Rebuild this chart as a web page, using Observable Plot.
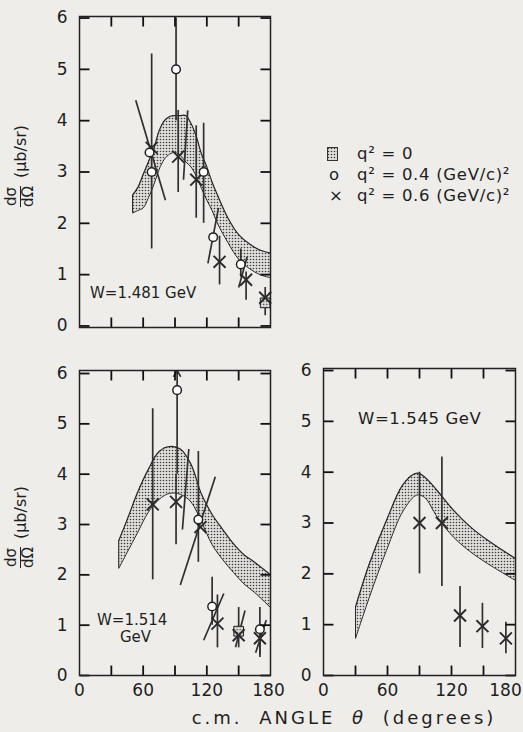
<!DOCTYPE html>
<html><head><meta charset="utf-8">
<script src="https://cdn.jsdelivr.net/npm/d3@7"></script>
<script src="https://cdn.jsdelivr.net/npm/@observablehq/plot@0.6"></script>
<style>
body{margin:0;background:#eeede9;}
#wrap{position:relative;width:523px;height:732px;overflow:hidden;background:#eeede9;font-family:"DejaVu Sans",sans-serif;color:#1e1e1e;}
.abs{position:absolute;white-space:nowrap;}
.lbl{font-size:15px;line-height:16px;}
.ytitle{position:absolute;transform:translate(-50%,-50%) rotate(-90deg);white-space:nowrap;display:flex;align-items:center;font-size:16px;}
.frac{display:inline-flex;flex-direction:column;align-items:center;font-size:15px;line-height:15px;margin-right:8px;}
.frac span:first-child{border-bottom:1.4px solid #1e1e1e;padding:0 1px 1px 1px;}
.leg{position:absolute;font-size:16.5px;line-height:20px;letter-spacing:0.7px;white-space:nowrap;}
</style></head><body><div id="wrap"></div><script>
// ---------- data: W = 1.481 GeV ----------
const band1481Angle = [50,55,60,65,70,75,80,85,90,95,100,105,110,115,120,125,130,140,150,160,170,180];
const band1481Upper = [2.55,2.7,2.95,3.2,3.45,3.8,4.0,4.08,4.1,4.1,4.1,3.95,3.7,3.35,3.1,2.8,2.55,2.1,1.78,1.6,1.48,1.42];
const band1481Lower = [2.2,2.25,2.3,2.5,2.75,3.05,3.25,3.35,3.38,3.32,3.2,3.1,2.92,2.68,2.45,2.25,2.0,1.62,1.3,1.12,1.0,0.94];
const circles1481 = [{a:66,v:3.38},{a:68,v:3.0,lo:1.5,hi:5.3},{a:91,v:5.0,lo:4.0,hi:6.0},{a:117,v:3.0,lo:2.0,hi:3.95},{a:126,v:1.73},{a:152,v:1.2,lo:0.95,hi:1.5}];
const crosses1481 = [{a:68,v:3.47},{a:93,v:3.3,lo:2.6,hi:4.2},{a:110,v:2.85,lo:2.1,hi:3.9},{a:132,v:1.25,lo:0.8,hi:1.75},{a:157,v:0.9,lo:0.5,hi:1.05},{a:175,v:0.55,lo:0.2,hi:0.75}];
const tilts1481 = [{a1:53,v1:4.4,a2:81,v2:2.45},{a1:102,v1:4.2,a2:98,v2:2.85},{a1:121,v1:1.22,a2:131,v2:2.3},{a1:150,v1:0.75,a2:158,v2:1.35}];
const squares1481 = [{a:175,v:0.45}];
// ---------- data: W = 1.514 GeV ----------
const band1514Angle = [37,45,55,65,75,85,95,105,115,125,135,145,155,165,180];
const band1514Upper = [2.68,3.1,3.65,4.1,4.45,4.55,4.5,4.2,3.6,3.2,2.9,2.62,2.4,2.25,2.0];
const band1514Lower = [2.13,2.45,2.85,3.25,3.5,3.62,3.6,3.45,3.05,2.6,2.3,2.05,1.82,1.65,1.35];
const circles1514 = [{a:92,v:5.67,lo:4.0},{a:112,v:3.1,lo:2.25,hi:4.45},{a:125,v:1.37,lo:1.0,hi:1.95},{a:170,v:0.92,lo:0.4,hi:1.35}];
const arrows1514 = [{a:92,v1:5.67,v2:6.06}];
const crosses1514 = [{a:69,v:3.4,lo:1.9,hi:5.3},{a:91,v:3.45,lo:2.6,hi:4.0},{a:114,v:2.95},{a:130,v:1.03,lo:0.55,hi:1.6},{a:150,v:0.8,lo:0.55,hi:1.35},{a:170,v:0.74,lo:0.36,hi:1.0}];
const tilts1514 = [{a1:103,v1:4.5,a2:97,v2:2.9},{a1:95,v1:1.8,a2:128,v2:3.95},{a1:117,v1:0.7,a2:136,v2:1.63},{a1:147,v1:0.56,a2:156,v2:1.29},{a1:166,v1:0.45,a2:176,v2:1.1}];
const squares1514 = [{a:150,v:0.88}];
// ---------- data: W = 1.545 GeV ----------
const band1545Angle = [30,43,59,75,87.5,95,106.5,122,138,154,180];
const band1545Upper = [1.35,2.2,3.05,3.77,3.98,3.9,3.64,3.25,2.92,2.66,2.3];
const band1545Lower = [0.73,1.54,2.46,3.25,3.55,3.5,3.12,2.72,2.43,2.2,1.87];
const crosses1545 = [{a:90,v:3.0,lo:2.0,hi:4.0},{a:111,v:3.0,lo:1.75,hi:4.3},{a:128,v:1.18,lo:0.55,hi:1.75},{a:149,v:0.97,lo:0.53,hi:1.42},{a:171,v:0.73,lo:0.43,hi:1.05}];
// ---------- ticks ----------
const yTicks = [0,1,2,3,4,5,6];
const xMinorTicks = [30,60,90,120,150];
const xTickLabels = [0,60,120];
const xTickLabelEnd = [180];

const wrap = document.getElementById("wrap");
const INK = "#262626";
const TICK = 10; // tick length in pixels

function addPattern(svg, id){
  const ns = "http://www.w3.org/2000/svg";
  const defs = document.createElementNS(ns, "defs");
  defs.innerHTML = `<pattern id="${id}" width="3" height="3" patternUnits="userSpaceOnUse"><rect width="3" height="3" fill="#e0dfdb"/><circle cx="1.5" cy="1.5" r="0.8" fill="#3a3a3a"/></pattern>`;
  svg.insertBefore(defs, svg.firstChild);
}

function panel(o){
  const band = o.angle.map((a,i)=>({a, lo:o.lower[i], hi:o.upper[i]}));
  const errs = [...(o.circles||[]), ...(o.crosses||[])].filter(d=>d.lo!==undefined);
  const errsFull = errs.map(d=>({a:d.a, lo:d.lo, hi:d.hi===undefined?d.v:d.hi}));
  const pat = `url(#${o.id})`;
  // frame size in pixels -> tick length expressed in each scale's units
  const fw = o.width - o.ml - o.mr, fh = o.height - o.mt - o.mb;
  const [y0, y1] = o.yDomain;
  const tx = TICK * 180 / fw, ty = TICK * (y1 - y0) / fh;
  const tickStyle = {stroke:"#111", strokeWidth:1.8};
  const marks = [
    Plot.areaY(band, {x:"a", y1:"lo", y2:"hi", fill:pat, curve:"catmull-rom"}),
    Plot.line(band, {x:"a", y:"hi", stroke:INK, strokeWidth:1.2, curve:"catmull-rom"}),
    Plot.line(band, {x:"a", y:"lo", stroke:INK, strokeWidth:1.0, curve:"catmull-rom"}),
    Plot.ruleX([band[0]], {x:"a", y1:"lo", y2:"hi", stroke:INK, strokeWidth:1}),
    Plot.ruleX(errsFull, {x:"a", y1:"lo", y2:"hi", stroke:"#303030", strokeWidth:1.7}),
    Plot.link(o.tilts||[], {x1:"a1", y1:"v1", x2:"a2", y2:"v2", stroke:"#303030", strokeWidth:1.7}),
    Plot.arrow(o.arrows||[], {x1:"a", y1:"v1", x2:"a", y2:"v2", stroke:"#303030", strokeWidth:1.7, headLength:7}),
    Plot.dot(o.squares||[], {x:"a", y:"v", symbol:"square", r:5.5, fill:pat, stroke:INK, strokeWidth:1}),
    Plot.dot(o.crosses||[], {x:"a", y:"v", symbol:"times", r:5.5, stroke:"#2a2a2a", strokeWidth:1.9}),
    Plot.dot(o.circles||[], {x:"a", y:"v", r:4.3, fill:"white", stroke:"#222", strokeWidth:1.5}),
    // inward ticks on all four sides, drawn as links through the plot's scales
    Plot.link(yTicks, {x1:()=>0, x2:()=>tx, y1:d=>d, y2:d=>d, ...tickStyle}),
    Plot.link(yTicks, {x1:()=>180-tx, x2:()=>180, y1:d=>d, y2:d=>d, ...tickStyle}),
    Plot.link(xMinorTicks, {x1:d=>d, x2:d=>d, y1:()=>y1, y2:()=>y1-ty, ...tickStyle}),
    Plot.link(xMinorTicks, {x1:d=>d, x2:d=>d, y1:()=>y0, y2:()=>y0+ty, ...tickStyle}),
    Plot.frame({stroke:"#222", strokeWidth:1.5}),
    Plot.axisY({anchor:"left", ticks:yTicks, tickSize:0, tickPadding:12, label:null, fontSize:17, tickFormat:d=>String(d)})
  ];
  if (o.xLabels) {
    marks.push(Plot.axisX({anchor:"bottom", ticks:xTickLabels, tickSize:0, tickPadding:8, label:null, fontSize:17}));
    marks.push(Plot.axisX({anchor:"bottom", ticks:xTickLabelEnd, tickSize:0, tickPadding:8, label:null, fontSize:17, dx:o.endDx}));
  }
  const svg = Plot.plot({
    width:o.width, height:o.height,
    marginLeft:o.ml, marginRight:o.mr, marginTop:o.mt, marginBottom:o.mb,
    x:{domain:[0,180], label:null, axis:null},
    y:{domain:o.yDomain, label:null, axis:null},
    style:{background:"transparent", fontFamily:"'DejaVu Sans', sans-serif", color:"#1e1e1e", overflow:"visible"},
    marks
  });
  addPattern(svg, o.id);
  svg.style.position = "absolute";
  svg.style.left = o.left + "px";
  svg.style.top = o.top + "px";
  wrap.appendChild(svg);
}

panel({id:"p1481", left:0, top:0, width:290, height:345, ml:79, mr:20, mt:16, mb:18, yDomain:[-0.03,6.03],
  angle:band1481Angle, upper:band1481Upper, lower:band1481Lower,
  circles:circles1481, crosses:crosses1481, tilts:tilts1481, squares:squares1481, xLabels:false});
panel({id:"p1514", left:0, top:350, width:290, height:382, ml:79, mr:20, mt:20, mb:57, yDomain:[0,6.06],
  angle:band1514Angle, upper:band1514Upper, lower:band1514Lower,
  circles:circles1514, crosses:crosses1514, tilts:tilts1514, squares:squares1514, arrows:arrows1514, xLabels:true, endDx:-2});
panel({id:"p1545", left:290, top:350, width:233, height:382, ml:33, mr:8, mt:18, mb:57, yDomain:[0,6.04],
  angle:band1545Angle, upper:band1545Upper, lower:band1545Lower,
  crosses:crosses1545, xLabels:true, endDx:-10});

// ---------- text ----------
function addHTML(html){ wrap.insertAdjacentHTML("beforeend", html); }
addHTML(`<div class="abs lbl" style="left:90px;top:285px;">W=1.481 GeV</div>`);
addHTML(`<div class="abs lbl" style="left:97px;top:612px;">W=1.514</div>`);
addHTML(`<div class="abs lbl" style="left:120px;top:629px;">GeV</div>`);
addHTML(`<div class="abs lbl" style="left:358px;top:411px;font-size:16.5px;letter-spacing:0.6px;">W=1.545 GeV</div>`);
const ytitle = `<span class="frac"><span>dσ</span><span>dΩ</span></span><span>(μb/sr)</span>`;
addHTML(`<div class="ytitle" style="left:20px;top:166px;">${ytitle}</div>`);
addHTML(`<div class="ytitle" style="left:20px;top:527px;">${ytitle}</div>`);
addHTML(`<div class="abs" style="left:344px;top:707px;transform:translateX(-50%);font-size:18px;letter-spacing:3px;word-spacing:8px;">c.m. ANGLE <i>θ</i> (degrees)</div>`);
// legend
addHTML(`<svg class="abs" style="left:327px;top:147px;" width="12" height="14"><rect x="0.5" y="0.5" width="10" height="13" fill="url(#p1481)" stroke="#333" stroke-width="1"/></svg>`);
addHTML(`<div class="leg" style="left:357px;top:144px;">q² = 0</div>`);
addHTML(`<div class="leg" style="left:329px;top:165px;">o</div>`);
addHTML(`<div class="leg" style="left:357px;top:165px;">q² = 0.4 (GeV/c)²</div>`);
addHTML(`<div class="leg" style="left:329px;top:186px;">×</div>`);
addHTML(`<div class="leg" style="left:357px;top:186px;">q² = 0.6 (GeV/c)²</div>`);
</script></body></html>
